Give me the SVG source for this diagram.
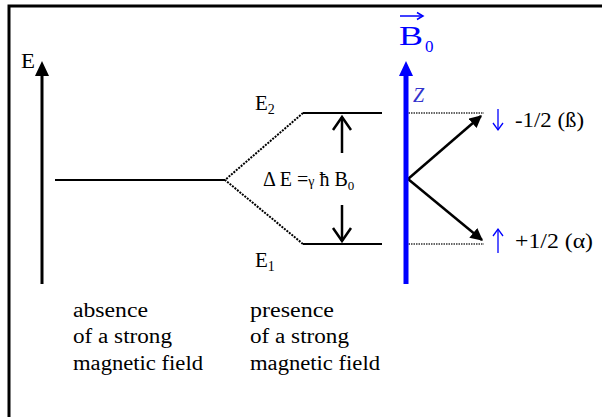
<svg xmlns="http://www.w3.org/2000/svg" width="602" height="417" viewBox="0 0 602 417">
<style>
text{font-family:"Liberation Serif","Times New Roman",serif;fill:#000}
.b{fill:#0000ff}
.lvl{stroke:#000;stroke-width:2;fill:none}
.dot{stroke:#000;stroke-width:2;stroke-dasharray:2 1.2;fill:none}
.thin{stroke:#333;stroke-width:1.5;stroke-dasharray:1.5 1;fill:none}
.chev{stroke:#000;stroke-width:2.5;fill:none}
.lab{font-size:20.5px}
</style>
<defs>
<marker id="ah" viewBox="0 0 10 10" refX="9" refY="5" markerWidth="5" markerHeight="5" orient="auto" markerUnits="strokeWidth">
<path d="M0,0 L10,5 L0,10 Z" fill="#000"/>
</marker>
</defs>
<rect width="602" height="417" fill="#fff"/>
<path d="M9,417 V6 H602" stroke="#000" stroke-width="3" fill="none"/>

<g id="energy-axis">
<line x1="42" y1="284" x2="42" y2="74" stroke="#000" stroke-width="3"/>
<path d="M35,76 L42,61 L49,76 Z" fill="#000"/>
<text x="21" y="68" font-size="22" textLength="14" lengthAdjust="spacingAndGlyphs">E</text>
</g>

<g id="connectors">
<line class="lvl" x1="55" y1="180" x2="225" y2="180"/>
<polyline class="dot" points="303,113 225,180 303,244"/>
<line class="thin" x1="406" y1="113" x2="484" y2="113"/>
<line class="thin" x1="406" y1="244" x2="484" y2="244"/>
<line x1="408" y1="179" x2="481" y2="116" stroke="#000" stroke-width="2.5" marker-end="url(#ah)"/>
<line x1="408" y1="179" x2="482" y2="240" stroke="#000" stroke-width="2.5" marker-end="url(#ah)"/>
</g>

<g id="level-E2">
<line class="lvl" x1="303" y1="113" x2="382" y2="113"/>
<text x="255" y="110" font-size="21">E<tspan font-size="14" dy="4">2</tspan></text>
</g>

<g id="level-E1">
<line class="lvl" x1="303" y1="244" x2="382" y2="244"/>
<text x="255" y="267" font-size="21">E<tspan font-size="14" dy="4">1</tspan></text>
</g>

<g id="delta-E">
<line class="chev" x1="342" y1="153" x2="342" y2="117"/>
<polyline class="chev" points="333,130 342,117 351,130"/>
<line class="chev" x1="342" y1="205" x2="342" y2="241"/>
<polyline class="chev" points="333,228 342,241 351,228"/>
<text x="263" y="186" font-size="20">Δ E =<tspan font-size="14">γ</tspan> ħ B<tspan font-size="13" dy="4">0</tspan></text>
</g>

<g id="B0-axis">
<line x1="406" y1="284" x2="406" y2="73" stroke="#0000ff" stroke-width="5"/>
<path d="M399,76 L406,61 L413,76 Z" fill="#0000ff"/>
<text class="b" x="399" y="45" font-size="27" textLength="24" lengthAdjust="spacingAndGlyphs">B</text>
<text class="b" x="425" y="52" font-size="17">0</text>
<line x1="400" y1="16" x2="422" y2="16" stroke="#0000ff" stroke-width="1.5"/>
<path d="M417,12.5 L423,16 L417,19.5" stroke="#0000ff" stroke-width="1.5" fill="none"/>
<text x="413" y="102" font-size="20" font-style="italic" style="fill:#3333cc">Z</text>
</g>

<g id="spin-beta">
<line x1="498" y1="109" x2="498" y2="130" stroke="#0000ff" stroke-width="1.3"/>
<polyline points="493,123 498,130 503,123" stroke="#0000ff" stroke-width="1.3" fill="none"/>
<text x="515" y="127" font-size="21" textLength="69" lengthAdjust="spacingAndGlyphs">-1/2 (ß)</text>
</g>

<g id="spin-alpha">
<line x1="498" y1="253" x2="498" y2="229" stroke="#0000ff" stroke-width="1.3"/>
<polyline points="493,236 498,229 503,236" stroke="#0000ff" stroke-width="1.3" fill="none"/>
<text x="515" y="248" font-size="21" textLength="78" lengthAdjust="spacingAndGlyphs">+1/2 (α)</text>
</g>

<g id="label-absence">
<text class="lab" x="73" y="317" textLength="75" lengthAdjust="spacingAndGlyphs">absence</text>
<text class="lab" x="73" y="343" textLength="99" lengthAdjust="spacingAndGlyphs">of a strong</text>
<text class="lab" x="73" y="370" textLength="130" lengthAdjust="spacingAndGlyphs">magnetic field</text>
</g>

<g id="label-presence">
<text class="lab" x="250" y="317" textLength="84" lengthAdjust="spacingAndGlyphs">presence</text>
<text class="lab" x="250" y="343" textLength="99" lengthAdjust="spacingAndGlyphs">of a strong</text>
<text class="lab" x="250" y="370" textLength="130" lengthAdjust="spacingAndGlyphs">magnetic field</text>
</g>
</svg>
